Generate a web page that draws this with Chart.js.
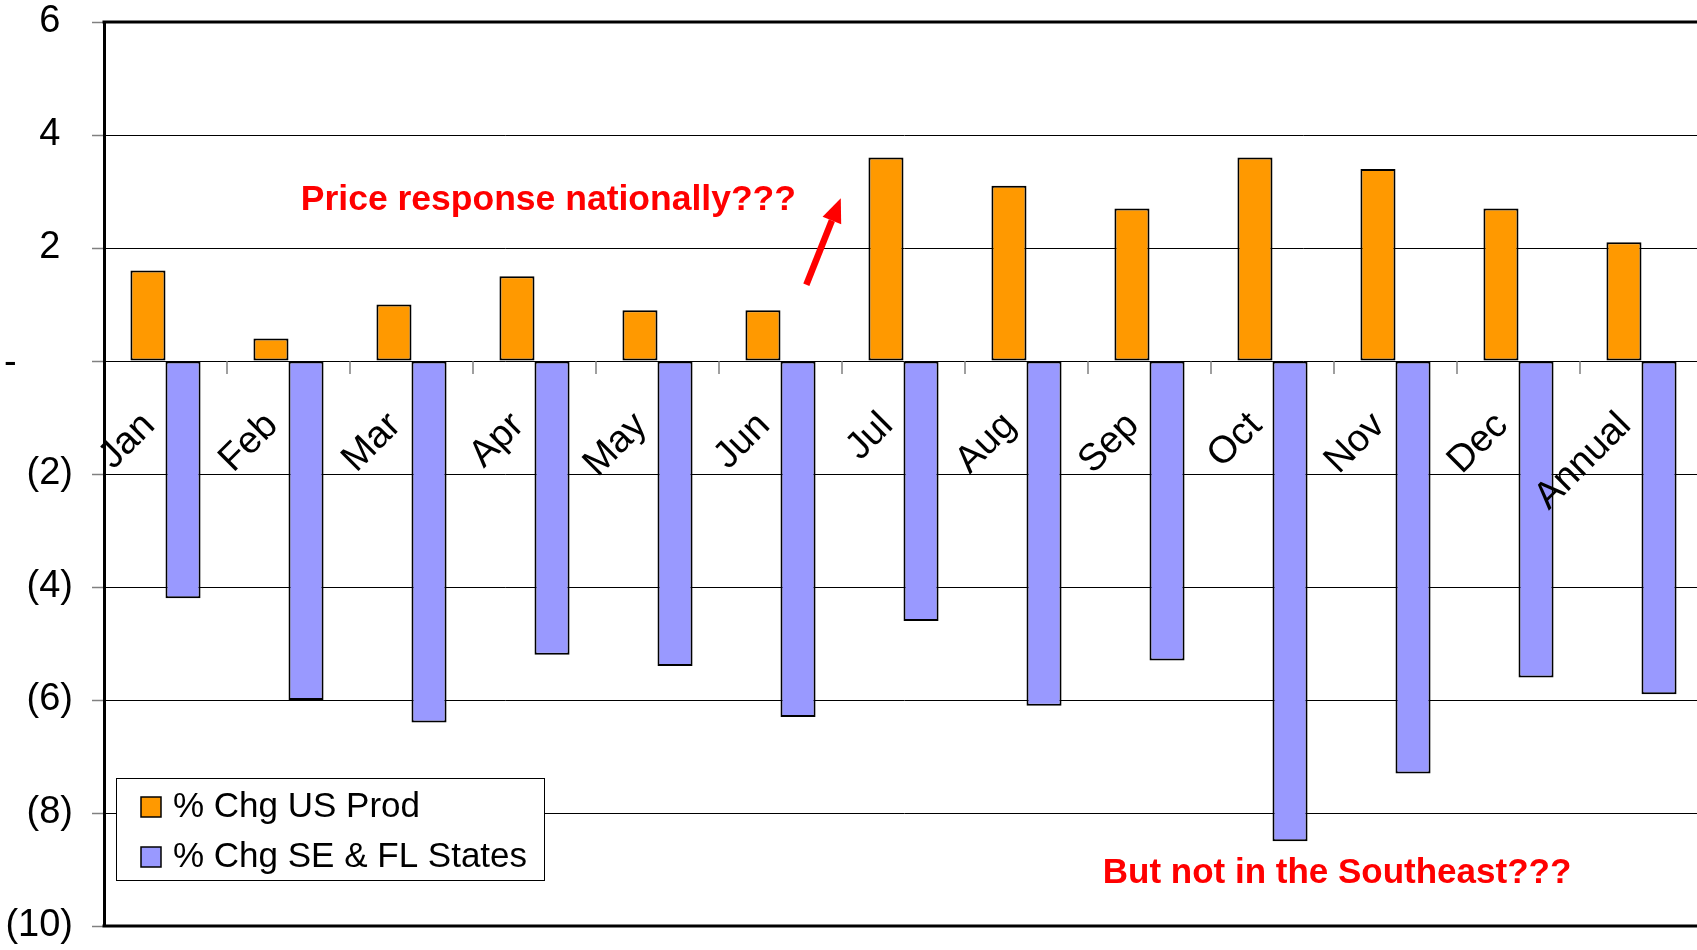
<!DOCTYPE html>
<html>
<head>
<meta charset="utf-8">
<script src="https://cdn.jsdelivr.net/npm/chart.js@4.4.1/dist/chart.umd.min.js"></script>
<style>
    html, body { margin: 0; padding: 0; background: #fff; overflow: hidden; }
    #wrap { width: 1712px; height: 950px; }
</style>
</head>
<body>
<div id="wrap"><canvas id="chart"></canvas></div>
<script>
// Chart data
const categories = ['Jan', 'Feb', 'Mar', 'Apr', 'May', 'Jun', 'Jul', 'Aug', 'Sep', 'Oct', 'Nov', 'Dec', 'Annual'];
const usProd = [1.6, 0.4, 1.0, 1.5, 0.9, 0.9, 3.6, 3.1, 2.7, 3.6, 3.4, 2.7, 2.1];
const seFlStates = [-4.2, -6.0, -6.4, -5.2, -5.4, -6.3, -4.6, -6.1, -5.3, -8.5, -7.3, -5.6, -5.9];
const yTicks = [6, 4, 2, 0, -2, -4, -6, -8, -10];
const seriesNames = ['% Chg US Prod', '% Chg SE & FL States'];
const seriesColors = ['#FF9900', '#9999FF'];

// Callouts, placed in data units (category index, value)
const noteTop = { text: 'Price response nationally???', x: 1.1, y: 2.67, size: 35.5 };
const noteBottom = { text: 'But not in the Southeast???', x: 7.62, y: -9.24, size: 35 };
const arrowFrom = { x: 5.21, y: 1.35 };
const arrowTo = { x: 5.49, y: 2.88 };

const FONT = '"Liberation Sans", Arial, sans-serif';

function formatTick(v) {
    if (v === 0) return '-';
    if (v < 0) return '(' + (-v) + ')';
    return String(v);
}

const decorations = {
    id: 'decorations',
    afterDraw(chart) {
        const { ctx, chartArea: a, scales: { x, y } } = chart;
        ctx.save();

        // thick top and bottom frame lines
        ctx.strokeStyle = '#000';
        ctx.lineWidth = 3;
        ctx.beginPath();
        ctx.moveTo(a.left - 1.5, a.top);
        ctx.lineTo(a.right, a.top);
        ctx.moveTo(a.left - 1.5, a.bottom);
        ctx.lineTo(a.right, a.bottom);
        ctx.stroke();

        // y tick labels, accounting style
        ctx.fillStyle = '#000';
        ctx.font = '38px ' + FONT;
        ctx.textBaseline = 'middle';
        const rightEdge = a.left - 31;
        const parenW = ctx.measureText(')').width;
        yTicks.forEach(v => {
            const py = y.getPixelForValue(v);
            const label = formatTick(v);
            if (v === 0) {
                ctx.textAlign = 'left';
                ctx.fillText(label, 4, py + 3);
            } else if (v < 0) {
                ctx.textAlign = 'right';
                ctx.fillText(label, rightEdge, py);
            } else {
                ctx.textAlign = 'right';
                ctx.fillText(label, rightEdge - parenW, py);
            }
        });

        // category tick marks on the zero line
        const y0 = y.getPixelForValue(0);
        ctx.strokeStyle = '#808080';
        ctx.lineWidth = 1.5;
        ctx.beginPath();
        for (let i = 1; i < categories.length; i++) {
            const px = Math.round((x.getPixelForValue(i - 1) + x.getPixelForValue(i)) / 2);
            ctx.moveTo(px, y0);
            ctx.lineTo(px, y0 + 13);
        }
        ctx.stroke();

        // rotated category labels
        ctx.fillStyle = '#000';
        ctx.font = '38px ' + FONT;
        ctx.textAlign = 'right';
        ctx.textBaseline = 'alphabetic';
        categories.forEach((c, i) => {
            ctx.save();
            ctx.translate(x.getPixelForValue(i) - 9, y0 + 66);
            ctx.rotate(-Math.PI / 4);
            ctx.fillText(c, 0, 0);
            ctx.restore();
        });

        // legend box
        const lx = a.left + 12, ly = a.top + 756, lw = 428, lh = 102;
        ctx.fillStyle = '#fff';
        ctx.fillRect(lx, ly, lw, lh);
        ctx.strokeStyle = '#000';
        ctx.lineWidth = 1;
        ctx.strokeRect(lx + 0.5, ly + 0.5, lw, lh);
        ctx.font = '35px ' + FONT;
        ctx.textAlign = 'left';
        ctx.textBaseline = 'middle';
        seriesNames.forEach((name, i) => {
            const cy = ly + 29 + i * 50;
            ctx.fillStyle = seriesColors[i];
            ctx.fillRect(lx + 25, cy - 10, 20, 20);
            ctx.lineWidth = 1.5;
            ctx.strokeRect(lx + 25, cy - 10, 20, 20);
            ctx.fillStyle = '#000';
            ctx.fillText(name, lx + 57, cy);
        });

        // red callouts
        ctx.fillStyle = '#FF0000';
        ctx.textBaseline = 'alphabetic';
        [noteTop, noteBottom].forEach(n => {
            ctx.font = 'bold ' + n.size + 'px ' + FONT;
            ctx.fillText(n.text, x.getPixelForValue(n.x), y.getPixelForValue(n.y));
        });

        // arrow
        const x1 = x.getPixelForValue(arrowFrom.x), y1 = y.getPixelForValue(arrowFrom.y);
        const x2 = x.getPixelForValue(arrowTo.x), y2 = y.getPixelForValue(arrowTo.y);
        const ang = Math.atan2(y2 - y1, x2 - x1);
        const headLen = 24, headHalf = 10;
        const bx = x2 - headLen * Math.cos(ang), by = y2 - headLen * Math.sin(ang);
        ctx.strokeStyle = '#FF0000';
        ctx.lineWidth = 6.5;
        ctx.beginPath();
        ctx.moveTo(x1, y1);
        ctx.lineTo(bx, by);
        ctx.stroke();
        ctx.beginPath();
        ctx.moveTo(x2, y2);
        ctx.lineTo(bx + headHalf * Math.sin(ang), by - headHalf * Math.cos(ang));
        ctx.lineTo(bx - headHalf * Math.sin(ang), by + headHalf * Math.cos(ang));
        ctx.closePath();
        ctx.fill();

        ctx.restore();
    }
};

new Chart(document.getElementById('chart'), {
    type: 'bar',
    data: {
        labels: categories,
        datasets: [{
            label: seriesNames[0],
            data: usProd,
            backgroundColor: seriesColors[0],
            borderColor: '#000',
            borderWidth: 2,
            borderSkipped: false
        }, {
            label: seriesNames[1],
            data: seFlStates,
            backgroundColor: seriesColors[1],
            borderColor: '#000',
            borderWidth: 2,
            borderSkipped: false
        }]
    },
    options: {
        responsive: true,
        maintainAspectRatio: false,
        animation: false,
        devicePixelRatio: 1,
        layout: { padding: { left: 0, top: 22, right: 9, bottom: 24 } },
        categoryPercentage: 0.57,
        barPercentage: 1.0,
        plugins: {
            legend: { display: false },
            tooltip: { enabled: false }
        },
        scales: {
            x: { display: false },
            y: {
                min: -10,
                max: 6,
                afterFit(scale) { scale.width = 104; },
                ticks: { stepSize: 2, display: false },
                grid: {
                    color: '#000',
                    lineWidth: 1,
                    drawTicks: true,
                    tickLength: 12,
                    tickColor: '#808080',
                    tickWidth: 1.5
                },
                border: { display: true, color: '#000', width: 3 }
            }
        }
    },
    plugins: [decorations]
});
</script>
</body>
</html>
